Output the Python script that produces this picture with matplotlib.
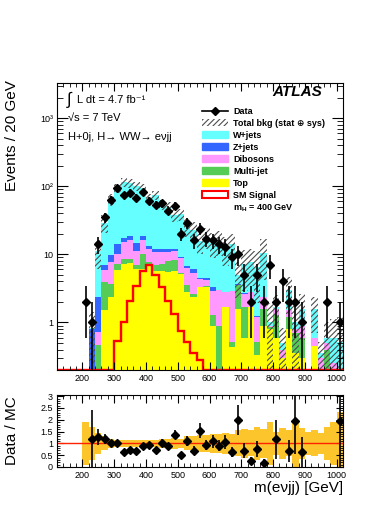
import numpy as np
import matplotlib.pyplot as plt
from matplotlib.lines import Line2D
from matplotlib.patches import Patch
from matplotlib.ticker import MultipleLocator, LogLocator, NullFormatter, FormatStrFormatter

plt.rcParams['font.family'] = ['Liberation Sans', 'DejaVu Sans']
plt.rcParams['hatch.linewidth'] = 0.8

# 20 GeV bins from 120 to 1020 GeV
edges = np.arange(120, 1021, 20)
centres = edges[:-1] + 10

# observed events per bin
data = np.array([0, 0, 0, 0,
                 2, 1, 14, 35, 64, 96, 74, 81, 68, 82,
                 61, 53, 56, 44, 52, 20, 29, 16, 24, 17,
                 16, 14, 13, 9, 10, 5, 2, 5, 2, 7,
                 2, 4, 2, 2, 1, 0, 0, 0, 2, 0, 1], dtype=float)

# background components (events per bin)
top = np.array([0, 0, 0, 0,
                0, 0, 0.1, 1.5, 2.36, 5.8, 7.3, 7.45, 6.2, 6.2,
                6.9, 5.7, 5.7, 5.5, 5.7, 5.2, 2.8, 2.35, 3.3, 3.3,
                0.9, 0.1, 1.7, 0.43, 1.6, 0.6, 1.7, 0.33, 0.9, 0.8,
                0.6, 0.3, 0.8, 0.35, 0.3, 0, 0.45, 0, 0, 0, 0.05])
multijet = np.array([0, 0, 0, 0,
                     0, 0, 0.36, 2.4, 1.34, 1.5, 1.3, 1.15, 0.7, 4.0,
                     0.8, 1.4, 1.6, 2.5, 2.5, 0.2, 0.7, 0.25, 0, 0.1,
                     0.37, 0.8, 0, 0.09, 1.9, 1.1, 0, 0.18, 0.7, 0.05,
                     0.7, 0, 0.4, 0.35, 0.3, 0, 0, 0.2, 0.4, 0.15, 0.05])
diboson = np.array([0, 0, 0, 0,
                    0, 0, 0.26, 1.9, 4.0, 2.9, 6.6, 7.5, 4.5, 5.9,
                    4.4, 3.7, 3.5, 2.8, 3.2, 3.5, 2.9, 2.7, 1.1, 0.8,
                    1.63, 2.05, 1.1, 2.38, 0, 0.9, 1.1, 0.69, 0.8, 0.05,
                    0.3, 0.1, 0.3, 0.1, 0.3, 0, 0.15, 0.1, 0.1, 0.1, 0.05])
zjets = np.array([0, 0, 0, 0,
                  0.05, 0.8, 1.64, 1.1, 2.0, 3.8, 2.4, 2.5, 3.3, 2.3,
                  1.0, 1.3, 1.3, 1.3, 0.7, 0.3, 0.3, 0.7, 0.1, 0.3,
                  0.4, 0.05, 0, 0, 0.2, 0.1, 0, 0.05, 0, 0,
                  0, 0, 0, 0, 0, 0, 0, 0, 0, 0, 0])
wjets = np.array([0, 0, 0, 0,
                  0.05, 0.03, 8.7, 22.5, 54, 81, 98, 92, 86, 76,
                  53, 63, 42, 37, 26, 30, 19.3, 17, 11.1, 13.8,
                  11.4, 12.6, 9.5, 11.1, 1.3, 4.5, 4.9, 5.25, 8.1, 0.1,
                  0.1, 0.1, 1.5, 0.23, 0.66, 0.1, 0.95, 0.05, 0.1, 0.35, 0.36])

# relative total background uncertainty (stat + sys)
rel_unc = np.array([0, 0, 0, 0,
                    0.9, 0.7, 0.45, 0.3, 0.2, 0.15, 0.15, 0.15, 0.15, 0.15,
                    0.15, 0.15, 0.18, 0.2, 0.22, 0.2, 0.3, 0.3, 0.35, 0.35,
                    0.4, 0.4, 0.45, 0.4, 0.55, 0.6, 0.55, 0.7, 0.6, 0.9,
                    0.5, 0.65, 0.55, 1.0, 0.65, 0.5, 0.55, 0.45, 0.7, 0.9, 1.35])

# SM signal, mH = 400 GeV
signal = np.array([0, 0, 0, 0,
                   0, 0, 0, 0, 0, 0.54, 1.0, 2.1, 3.4, 5.7,
                   6.9, 4.9, 3.3, 2.1, 1.34, 0.76, 0.51, 0.36, 0.28, 0,
                   0, 0, 0, 0, 0, 0, 0, 0, 0, 0,
                   0, 0, 0, 0, 0, 0, 0, 0, 0, 0, 0])

ymin, ymax = 0.2, 3300

fig = plt.figure(figsize=(3.9, 5.05), dpi=100)
ax = fig.add_axes([57/390, 1 - 370/505, 286/390, 287/505])
rax = fig.add_axes([57/390, 1 - 467/505, 286/390, 72/505])

# stacked backgrounds
comps = [(top, '#ffff00'), (multijet, '#55cc55'), (diboson, '#ff99ff'),
         (zjets, '#3366ff'), (wjets, '#66ffff')]
base = np.zeros(len(data))
for vals, col in comps:
    ax.stairs(base + vals, edges, baseline=base, fill=True, color=col, lw=0)
    base = base + vals
total = base

# uncertainty band
lo = np.clip(total * (1 - rel_unc), 1e-3, None)
hi = total * (1 + rel_unc)
ax.stairs(hi, edges, baseline=lo, fill=True, facecolor='none',
          edgecolor='0.3', hatch='//////', lw=0)

# signal outline
ax.stairs(np.clip(signal, ymin, None), edges, color='red', lw=1.7)

# data points
m = data > 0
ax.errorbar(centres[m], data[m], yerr=np.sqrt(data[m]), fmt='D', color='k',
            ms=3.8, elinewidth=1.2, capsize=0)

ax.set_yscale('log')
ax.set_xlim(120, 1020)
ax.set_ylim(ymin, ymax)
ax.set_yticks([1, 10, 100, 1000], ['1', '10', '10²', '10³'])
ax.yaxis.set_minor_locator(LogLocator(subs=np.arange(2, 10)))
ax.yaxis.set_minor_formatter(NullFormatter())

# ratio panel
ratio = np.where(total > 0, data / np.where(total > 0, total, 1), 0)
rm = (data > 0) & (total > 0) & (ratio < 3.05)
rax.stairs(1 + rel_unc, edges, baseline=np.clip(1 - rel_unc, 0, None),
           fill=True, color='#fdc52c', lw=0)
rax.axhline(1, color='#ff2200', lw=1)
rax.errorbar(centres[rm], ratio[rm], yerr=ratio[rm] / np.sqrt(data[rm]), fmt='D',
             color='k', ms=3.8, elinewidth=1.2, capsize=0)
rax.set_xlim(120, 1020)
rax.set_ylim(0, 3.05)
rax.yaxis.set_major_locator(MultipleLocator(0.5))
rax.yaxis.set_minor_locator(MultipleLocator(0.1))
rax.yaxis.set_major_formatter(FormatStrFormatter('%g'))

for a in (ax, rax):
    a.xaxis.set_major_locator(MultipleLocator(100))
    a.xaxis.set_minor_locator(MultipleLocator(20))
    a.tick_params(which='both', direction='in', top=True, right=True,
                  labelsize=6.5, pad=3)
    a.tick_params(axis='x', which='major', length=6)
    a.tick_params(axis='x', which='minor', length=3)
    a.tick_params(axis='y', which='major', length=8)
    a.tick_params(axis='y', which='minor', length=4)
rax.tick_params(axis='y', which='major', length=5)
rax.tick_params(axis='y', which='minor', length=2.5)

# legend
handles = [Line2D([], [], color='k', marker='D', ms=3.8, lw=1.2),
           Patch(facecolor='white', edgecolor='0.3', hatch='//////', lw=0),
           Patch(color='#66ffff'), Patch(color='#3366ff'), Patch(color='#ff99ff'),
           Patch(color='#55cc55'), Patch(color='#ffff00'),
           Patch(facecolor='white', edgecolor='red', lw=1.5),
           Patch(facecolor='none', edgecolor='none')]
labels = ['Data', 'Total bkg (stat ⊕ sys)', 'W+jets', 'Z+jets', 'Dibosons',
          'Multi-jet', 'Top', 'SM Signal', 'm$_{\\mathregular{H}}$ = 400 GeV']
leg = ax.legend(handles, labels, loc='upper left',
                bbox_to_anchor=(202/390, 1 - 107/505), bbox_transform=fig.transFigure,
                frameon=False, prop={'size': 6.5, 'weight': 'bold'},
                handlelength=2.9, handleheight=0.8, handletextpad=0.55,
                labelspacing=0.33, borderpad=0, borderaxespad=0)

# annotations
fig.text(322/390, 1 - 92/505, 'ATLAS', ha='right', va='center', fontsize=11,
         weight='bold', style='italic')
fig.text(67/390, 1 - 100/505, '∫', ha='left', va='center', fontsize=12)
fig.text(77/390, 1 - 100/505, 'L dt = 4.7 fb⁻¹', ha='left', va='center', fontsize=8)
fig.text(68/390, 1 - 118/505, '√s = 7 TeV', ha='left', va='center', fontsize=8)
fig.text(68/390, 1 - 137/505, 'H+0j, H→ WW→ eνjj', ha='left', va='center', fontsize=8)

fig.text(12/390, 1 - 80/505, 'Events / 20 GeV', rotation=90, ha='center', va='top',
         fontsize=11)
fig.text(12/390, 1 - 396/505, 'Data / MC', rotation=90, ha='center', va='top',
         fontsize=11)
fig.text(343/390, 1 - 488/505, 'm(eνjj) [GeV]', ha='right', va='center', fontsize=11)

fig.savefig('out.png', dpi=100)
